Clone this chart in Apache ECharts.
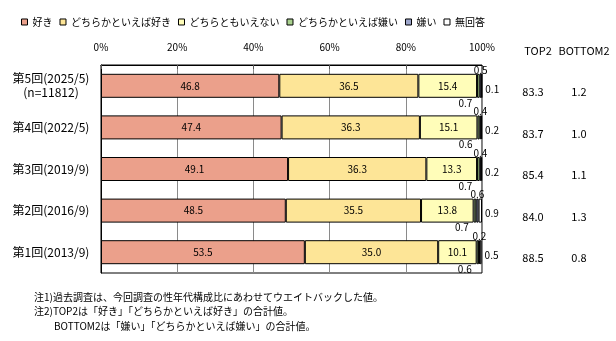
<!DOCTYPE html>
<html>
<head>
<meta charset="utf-8">
<script src="https://cdn.jsdelivr.net/npm/echarts@6/dist/echarts.min.js"></script>
<style>html,body{margin:0;padding:0;background:#fff;}#c{width:616px;height:341px;}</style>
</head>
<body>
<div id="c"></div>
<script>
const categories = ['第5回(2025/5)\n(n=11812)', '第4回(2022/5)', '第3回(2019/9)', '第2回(2016/9)', '第1回(2013/9)'];
const seriesNames = ['好き', 'どちらかといえば好き', 'どちらともいえない', 'どちらかといえば嫌い', '嫌い', '無回答'];
const like = [46.8, 47.4, 49.1, 48.5, 53.5];
const ratherLike = [36.5, 36.3, 36.3, 35.5, 35.0];
const neutral = [15.4, 15.1, 13.3, 13.8, 10.1];
const ratherDislike = [0.7, 0.6, 0.7, 0.7, 0.6];
const dislike = [0.5, 0.4, 0.4, 0.6, 0.2];
const noAnswer = [0.1, 0.2, 0.2, 0.9, 0.5];
const top2 = [83.3, 83.7, 85.4, 84.0, 88.5];
const bottom2 = [1.2, 1.0, 1.1, 1.3, 0.8];
const xTicks = [0, 20, 40, 60, 80, 100];
const notes = [
  '注1)過去調査は、今回調査の性年代構成比にあわせてウエイトバックした値。',
  '注2)TOP2は「好き」「どちらかといえば好き」の合計値。',
  '　　BOTTOM2は「嫌い」「どちらかといえば嫌い」の合計値。'
];

const FONT = '"Noto Sans CJK JP", "Noto Sans", sans-serif';
const colors = ['#EBA08B', '#FDE597', '#FFFDB9', '#A9D18E', '#9DA6CC', '#FFFFFF'];
const values = [like, ratherLike, neutral, ratherDislike, dislike, noAnswer];
const fmt = p => Number(p.value).toFixed(1);

const labelCfg = [
  {show: true, position: 'inside', fontSize: 10, color: '#000', formatter: fmt},
  {show: true, position: 'inside', fontSize: 10, color: '#000', formatter: fmt},
  {show: true, position: 'inside', fontSize: 10, color: '#000', formatter: fmt},
  {show: true, position: 'bottom', distance: 0, offset: [-13, 0], fontSize: 10, color: '#000', formatter: fmt},
  {show: true, position: 'top', distance: -1, fontSize: 10, color: '#000', formatter: fmt},
  {show: true, position: 'right', distance: 3, offset: [0, 3], fontSize: 10, color: '#000', formatter: fmt}
];

const series = seriesNames.map((n, i) => ({
  name: n,
  type: 'bar',
  stack: 'total',
  barWidth: 24,
  data: values[i],
  itemStyle: {color: colors[i], borderColor: '#000', borderWidth: 1},
  label: labelCfg[i],
  emphasis: {disabled: true},
  xAxisIndex: 0, yAxisIndex: 0
}));

const chart = echarts.init(document.getElementById('c'), null, {renderer: 'canvas'});
chart.setOption({
  animation: false,
  textStyle: {fontFamily: FONT},
  color: colors,
  legend: {
    left: 16, top: 12,
    itemWidth: 6, itemHeight: 6, itemGap: 7,
    icon: 'rect',
    selectedMode: false,
    textStyle: {fontSize: 10, color: '#000', fontFamily: FONT},
    itemStyle: {borderColor: '#000', borderWidth: 1},
    data: seriesNames
  },
  title: {
    text: '{a|TOP2}{b|BOTTOM2}',
    left: 510, top: 40,
    textStyle: {
      fontFamily: FONT, fontWeight: 'normal',
      rich: {
        a: {width: 46, align: 'center', fontSize: 11, fontWeight: 'normal', color: '#000', fontFamily: FONT},
        b: {width: 46, align: 'center', fontSize: 11, fontWeight: 'normal', color: '#000', fontFamily: FONT}
      }
    }
  },
  grid: {left: 101, right: 134, top: 65, bottom: 68, show: true, borderColor: '#000', borderWidth: 1, containLabel: false},
  xAxis: {
    type: 'value', position: 'top', min: 0, max: 100, interval: 20,
    axisLine: {show: true, lineStyle: {color: '#000'}},
    axisTick: {show: true, inside: true, length: 4, lineStyle: {color: '#555'}},
    axisLabel: {formatter: v => xTicks.includes(v) ? v + '%' : '', fontSize: 10, color: '#000', margin: 13},
    splitLine: {show: true, lineStyle: {color: '#8a8a8a', width: 1}}
  },
  yAxis: [{
    type: 'category', data: categories, inverse: true,
    axisLine: {show: true, lineStyle: {color: '#000'}},
    axisTick: {show: false},
    axisLabel: {align: 'center', margin: 50, fontSize: 12, lineHeight: 14, color: '#000'}
  }, {
    type: 'category', data: categories, inverse: true, position: 'right',
    axisLine: {show: false}, axisTick: {show: false},
    axisLabel: {
      margin: 28, align: 'left',
      formatter: (v, i) => '{t|' + top2[i].toFixed(1) + '}{b|' + bottom2[i].toFixed(1) + '}',
      rich: {
        t: {width: 46, align: 'center', fontSize: 11, color: '#000', padding: [12, 0, 0, 0]},
        b: {width: 46, align: 'center', fontSize: 11, color: '#000', padding: [12, 0, 0, 0]}
      }
    }
  }],
  graphic: notes.map((t, i) => ({
    type: 'text', left: 34, top: 292 + i * 14.5,
    style: {text: t, fontSize: 10, fill: '#000', fontFamily: FONT}
  })),
  series: series
});
</script>
</body>
</html>
